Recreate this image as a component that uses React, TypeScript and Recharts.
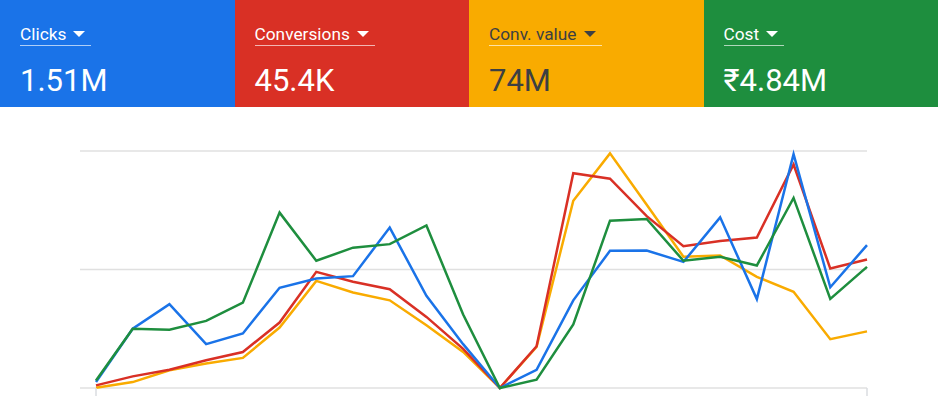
import { LineChart, Line, XAxis, YAxis, CartesianGrid } from "recharts";

// one point per day, labels sit below the visible area
const days = [
  "Mar 1", "Mar 2", "Mar 3", "Mar 4", "Mar 5", "Mar 6", "Mar 7", "Mar 8",
  "Mar 9", "Mar 10", "Mar 11", "Mar 12", "Mar 13", "Mar 14", "Mar 15", "Mar 16",
  "Mar 17", "Mar 18", "Mar 19", "Mar 20", "Mar 21", "Mar 22",
];

// each metric is normalised to its own max (0..100)
const clicks = [2.5, 25, 35.4, 18.5, 23, 42.3, 46.2, 47.2, 67.7, 38.9, 18.5, 0, 7.7, 37, 57.9, 58, 53.2, 72, 37.5, 98.7, 42.5, 60.3];
const conversions = [1.1, 4.9, 7.7, 11.7, 15.2, 27.6, 49, 44.8, 41.7, 30, 16.5, 0, 17.6, 90.6, 88.3, 72.5, 59.8, 62, 63.5, 94.3, 50.4, 54.2];
const convValue = [0.1, 2.5, 7.5, 10.3, 12.7, 25.5, 45.2, 40.3, 37, 26.5, 15.2, 0, 17.3, 79, 99, 77.3, 55.4, 55.9, 46.9, 40.6, 20.6, 23.9];
const cost = [3.2, 25, 24.6, 28.3, 36, 74, 53.7, 59.2, 60.7, 68.6, 31, 0, 3.5, 26.8, 70.6, 71.3, 53.7, 55.4, 51.7, 80.2, 37.6, 51.1];

const yTicks = [0, 50, 100];

const tiles = [
  { label: "Clicks", value: "1.51M", bg: "#1a73e8", fg: "#ffffff" },
  { label: "Conversions", value: "45.4K", bg: "#d93025", fg: "#ffffff" },
  { label: "Conv. value", value: "74M", bg: "#f9ab00", fg: "#3c4043" },
  { label: "Cost", value: "₹4.84M", bg: "#1e8e3e", fg: "#ffffff" },
];

const data = days.map((d, i) => ({
  day: d,
  clicks: clicks[i],
  conversions: conversions[i],
  convValue: convValue[i],
  cost: cost[i],
}));

function Tile({ label, value, bg, fg }: { label: string; value: string; bg: string; fg: string }) {
  return (
    <div style={{ position: "relative", width: 234.5, height: 107, background: bg, color: fg }}>
      <div
        style={{
          position: "absolute",
          left: 20,
          top: 24,
          fontSize: 17.3,
          lineHeight: "20px",
          paddingRight: 6,
          paddingBottom: 1,
          borderBottom: "1px solid rgba(255,255,255,0.65)",
          display: "flex",
          alignItems: "center",
          whiteSpace: "nowrap",
        }}
      >
        <span>{label}</span>
        <span
          style={{
            marginLeft: 7,
            width: 0,
            height: 0,
            borderLeft: "6.5px solid transparent",
            borderRight: "6.5px solid transparent",
            borderTop: `6.5px solid ${fg}`,
          }}
        />
      </div>
      <div style={{ position: "absolute", left: 20, top: 63, fontSize: 31, lineHeight: "36px" }}>{value}</div>
    </div>
  );
}

export default function App() {
  return (
    <div
      style={{
        position: "absolute",
        left: 0,
        top: 0,
        width: 938,
        height: 396,
        overflow: "hidden",
        background: "#fff",
        fontFamily: "Roboto, sans-serif",
      }}
    >
      <div style={{ display: "flex" }}>
        {tiles.map((t) => (
          <Tile key={t.label} {...t} />
        ))}
      </div>
      <LineChart width={938} height={289} data={data} margin={{ top: 44, right: 71, bottom: 0, left: 80 }}>
        <CartesianGrid vertical={false} stroke="#e0e0e0" strokeWidth={1.5} />
        <XAxis
          dataKey="day"
          ticks={[days[0], days[days.length - 1]]}
          padding={{ left: 16, right: 0 }}
          axisLine={false}
          tick={() => <g />}
          tickLine={{ stroke: "#dadce0", strokeWidth: 1.5 }}
          tickSize={9}
          height={8}
        />
        <YAxis hide domain={[0, 100]} ticks={yTicks} />
        <Line dataKey="convValue" stroke="#f9ab00" strokeWidth={2.5} dot={false} isAnimationActive={false} />
        <Line dataKey="conversions" stroke="#d93025" strokeWidth={2.5} dot={false} isAnimationActive={false} />
        <Line dataKey="clicks" stroke="#1a73e8" strokeWidth={2.5} dot={false} isAnimationActive={false} />
        <Line dataKey="cost" stroke="#1e8e3e" strokeWidth={2.5} dot={false} isAnimationActive={false} />
      </LineChart>
    </div>
  );
}
